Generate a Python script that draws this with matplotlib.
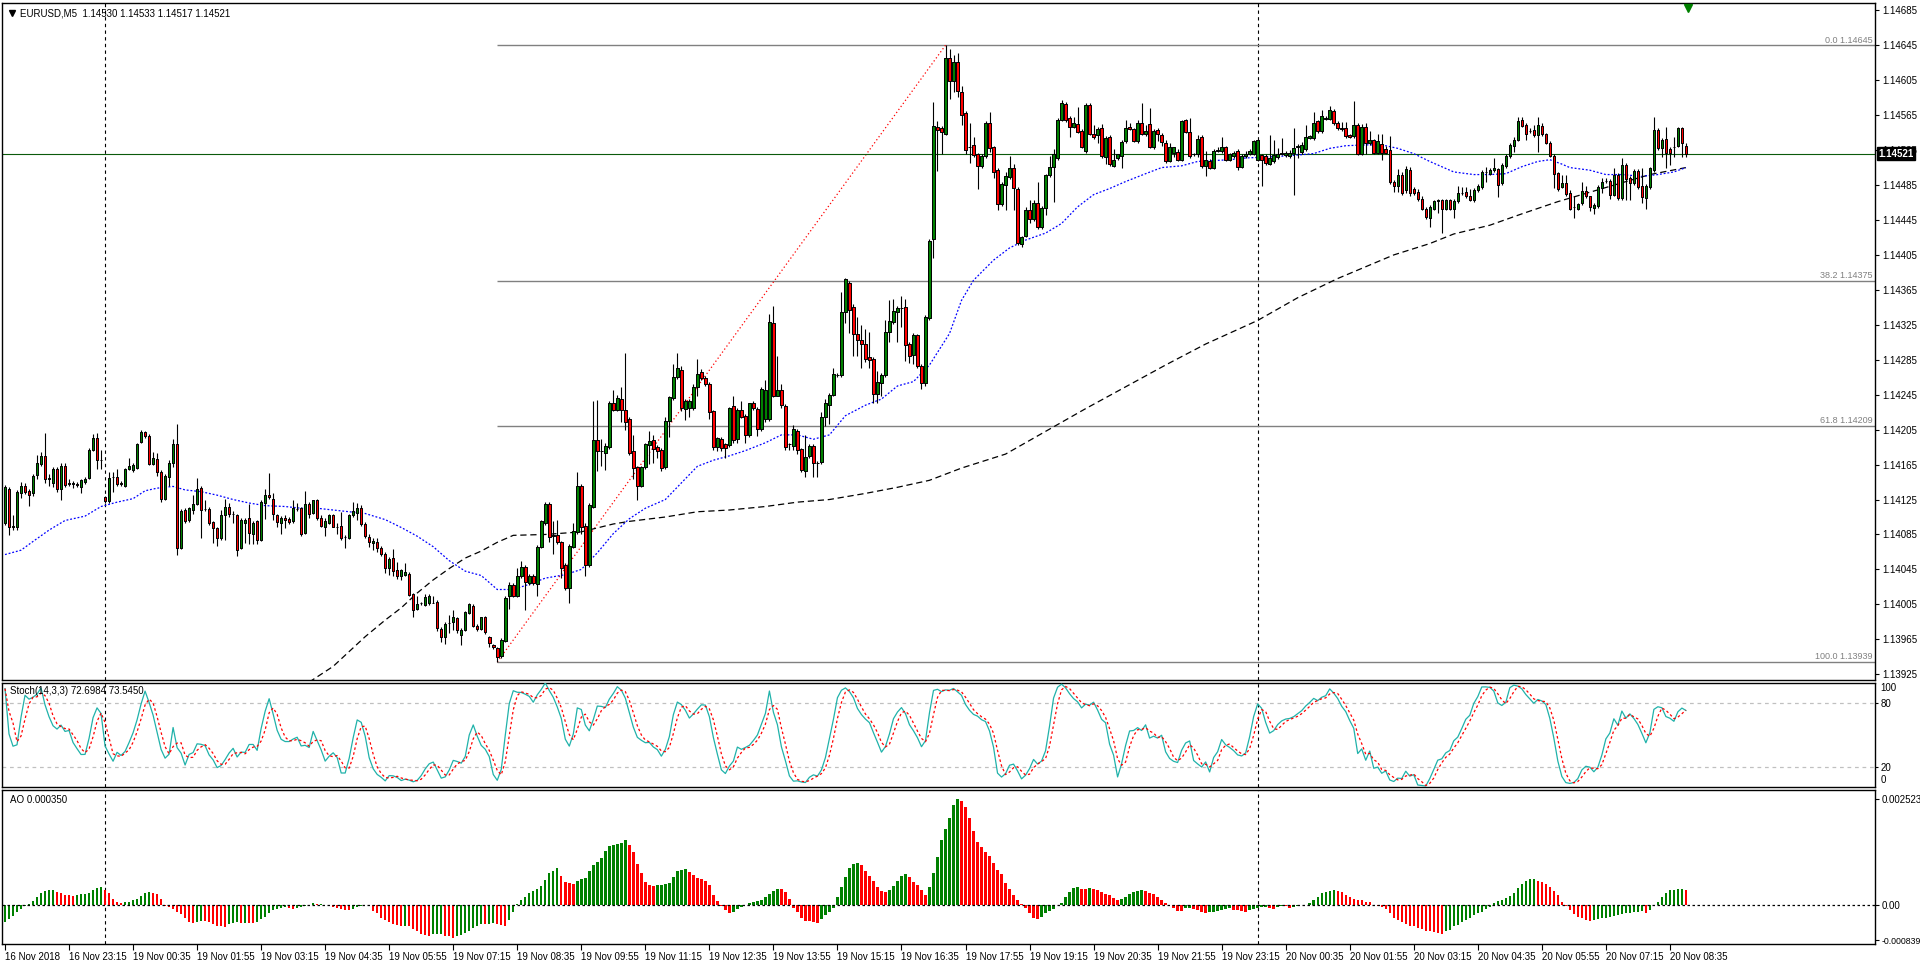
import numpy as np
import pandas as pd
import matplotlib
matplotlib.use("Agg")
import matplotlib.pyplot as plt
from matplotlib.patches import Rectangle
from matplotlib.collections import PatchCollection
from matplotlib.transforms import blended_transform_factory

plt.rcParams.update({
    "font.family": ["Liberation Sans", "DejaVu Sans"],
    "font.size": 7,
})

# Precios guardados en puntos (1e-5) sobre BASE
BASE = 1.14

OPEN = [
    98, 137, 94, 94, 133, 140, 135, 132, 153, 166,
    175, 149, 144, 160, 137, 163, 144, 143, 143, 139,
    145, 150, 182, 195, 170, 128, 123, 151, 151, 144,
    141, 160, 159, 161, 191, 202, 198, 166, 171, 157,
    126, 151, 167, 189, 70, 113, 101, 113, 120, 138,
    114, 114, 99, 92, 81, 107, 117, 108, 107, 70,
    98, 104, 86, 100, 79, 121, 130, 126, 107, 98,
    104, 103, 100, 114, 115, 87, 120, 110, 124, 104,
    94, 98, 107, 93, 95, 82, 81, 107, 110, 115,
    97, 82, 75, 76, 70, 63, 47, 58, 44, 37,
    39, 40, 17, 0, 6, 4, 6, 7, 8, -23,
    -32, -16, -15, -11, -30, -24, -5, 3, -20, -23,
    -10, -32, -41, -45, -54, -37, 14, 27, 15, 37,
    48, 29, 38, 28, 71, 98, 120, 83, 84, 76,
    50, 24, 71, 88, 140, 95, 50, 117, 193, 181,
    178, 185, 235, 228, 240, 227, 217, 180, 162, 141,
    162, 187, 193, 185, 182, 162, 215, 241, 265, 273,
    229, 230, 230, 254, 271, 264, 257, 226, 185, 194,
    188, 187, 232, 194, 227, 221, 199, 235, 229, 206,
    217, 217, 327, 244, 250, 232, 188, 186, 204, 183,
    158, 175, 186, 167, 168, 220, 233, 245, 268, 268,
    340, 373, 345, 315, 308, 303, 288, 286, 246, 258,
    267, 317, 328, 340, 344, 345, 303, 291, 313, 278,
    258, 333, 423, 551, 550, 544, 631, 604, 626, 592,
    567, 528, 531, 520, 507, 518, 556, 528, 502, 463,
    485, 494, 504, 481, 418, 427, 457, 446, 464, 437,
    459, 496, 506, 516, 560, 578, 562, 552, 555, 547,
    524, 577, 544, 542, 550, 517, 540, 507, 516, 518,
    535, 551, 549, 535, 556, 543, 555, 528, 548, 542,
    533, 513, 522, 523, 514, 559, 546, 521, 520, 540,
    507, 513, 505, 524, 524, 528, 514, 518, 524, 506,
    518, 520, 521, 514, 519, 518, 509, 512, 517, 521,
    519, 518, 522, 529, 523, 526, 539, 539, 558, 547,
    561, 561, 570, 556, 550, 550, 542, 541, 554, 521,
    552, 533, 537, 522, 532, 526, 525, 489, 484, 497,
    479, 502, 481, 477, 469, 458, 447, 458, 467, 468,
    458, 468, 458, 467, 476, 477, 472, 468, 479, 483,
    500, 498, 502, 503, 487, 507, 518, 530, 537, 560,
    554, 547, 548, 542, 553, 543, 533, 518, 499, 483,
    487, 476, 460, 458, 464, 478, 472, 459, 461, 482,
    490, 490, 474, 497, 470, 508, 493, 487, 501, 484,
    470, 483, 502, 548, 527, 538, 526, 528, 530, 550, 530,
]
HIGH = [
    142, 139, 107, 136, 145, 144, 137, 154, 176, 179,
    201, 154, 162, 162, 167, 167, 148, 146, 145, 149,
    151, 184, 200, 201, 182, 129, 157, 156, 160, 146,
    161, 173, 167, 190, 205, 204, 200, 179, 178, 159,
    154, 170, 194, 212, 114, 115, 117, 130, 150, 140,
    125, 116, 100, 93, 113, 126, 121, 112, 109, 104,
    104, 120, 100, 102, 124, 137, 155, 132, 109, 106,
    107, 105, 125, 121, 117, 135, 122, 125, 126, 107,
    104, 108, 109, 98, 111, 84, 109, 122, 121, 119,
    99, 86, 81, 81, 72, 65, 59, 68, 54, 46,
    52, 42, 18, 14, 8, 17, 17, 15, 10, -21,
    -15, -7, -2, -9, -22, -3, 6, 5, -18, -9,
    -8, -31, -40, -44, -34, 14, 31, 30, 47, 55,
    50, 40, 40, 73, 102, 122, 122, 100, 102, 78,
    52, 74, 98, 156, 143, 98, 121, 238, 239, 194,
    190, 238, 250, 245, 254, 293, 220, 199, 163, 163,
    190, 204, 199, 187, 184, 220, 244, 280, 293, 278,
    240, 240, 257, 286, 274, 266, 260, 228, 197, 197,
    190, 231, 244, 230, 238, 223, 236, 238, 231, 254,
    262, 337, 346, 289, 257, 234, 190, 210, 206, 184,
    199, 188, 188, 169, 225, 240, 247, 275, 270, 363,
    379, 375, 349, 334, 325, 320, 317, 288, 272, 270,
    331, 353, 355, 347, 358, 355, 305, 316, 315, 280,
    336, 423, 580, 558, 553, 645, 641, 634, 636, 598,
    570, 556, 540, 522, 520, 558, 569, 530, 504, 488,
    500, 518, 509, 483, 427, 460, 468, 468, 489, 461,
    498, 518, 526, 562, 582, 580, 564, 563, 574, 549,
    579, 579, 554, 552, 555, 541, 542, 526, 521, 536,
    560, 556, 550, 559, 579, 554, 573, 549, 550, 545,
    537, 533, 529, 526, 560, 561, 562, 522, 542, 542,
    524, 515, 526, 528, 540, 530, 522, 524, 526, 520,
    524, 526, 537, 538, 521, 520, 542, 537, 527, 539,
    524, 525, 550, 532, 534, 554, 542, 569, 560, 571,
    564, 575, 572, 558, 557, 557, 543, 581, 556, 555,
    556, 547, 538, 544, 544, 530, 541, 491, 503, 500,
    507, 506, 483, 480, 472, 460, 462, 468, 469, 469,
    469, 469, 469, 484, 483, 483, 481, 482, 486, 502,
    506, 504, 516, 505, 510, 520, 533, 540, 563, 563,
    556, 550, 554, 563, 556, 545, 535, 520, 500, 497,
    497, 479, 472, 465, 489, 484, 473, 464, 485, 493,
    493, 492, 505, 499, 516, 510, 495, 503, 503, 504,
    486, 506, 563, 550, 539, 551, 528, 540, 552, 552, 533,
]
LOW = [
    96, 84, 90, 90, 127, 131, 118, 129, 148, 163,
    144, 140, 139, 134, 125, 139, 140, 138, 139, 133,
    143, 149, 181, 160, 160, 121, 121, 134, 141, 140,
    139, 159, 157, 160, 190, 196, 164, 164, 152, 122,
    124, 140, 162, 61, 68, 98, 99, 109, 119, 81,
    112, 96, 75, 72, 79, 79, 105, 98, 60, 68,
    75, 74, 74, 74, 77, 103, 126, 102, 94, 86,
    92, 97, 98, 112, 83, 86, 104, 108, 102, 93,
    83, 97, 93, 86, 79, 69, 80, 105, 102, 95,
    81, 71, 67, 65, 60, 41, 39, 38, 34, 33,
    37, 14, -10, -1, 4, 3, 4, 6, -26, -38,
    -40, -28, -24, -28, -41, -26, -6, -21, -26, -24,
    -29, -44, -46, -61, -56, -38, 0, 13, 13, 35,
    -1, 27, 27, 14, 69, 96, 76, 63, 74, 35,
    21, 7, 70, 86, 85, 38, 48, 115, 158, 163,
    159, 183, 226, 226, 214, 205, 176, 148, 124, 139,
    160, 166, 167, 173, 158, 160, 197, 239, 263, 226,
    216, 220, 228, 243, 262, 255, 217, 182, 180, 180,
    172, 185, 190, 190, 218, 190, 197, 228, 198, 204,
    214, 215, 242, 243, 230, 182, 182, 182, 177, 157,
    151, 173, 151, 151, 166, 209, 211, 243, 265, 265,
    327, 316, 289, 289, 275, 283, 276, 236, 235, 244,
    265, 305, 326, 305, 323, 284, 281, 280, 276, 252,
    255, 331, 402, 501, 520, 542, 583, 592, 586, 554,
    521, 510, 517, 480, 505, 516, 523, 493, 456, 461,
    456, 492, 456, 416, 414, 425, 441, 444, 435, 435,
    451, 494, 466, 514, 558, 557, 540, 550, 545, 527,
    522, 542, 538, 533, 516, 509, 507, 506, 514, 504,
    533, 548, 534, 533, 542, 541, 527, 526, 535, 530,
    510, 511, 517, 512, 512, 545, 516, 518, 517, 505,
    495, 503, 503, 523, 522, 512, 512, 516, 502, 504,
    516, 519, 519, 512, 484, 508, 508, 510, 515, 519,
    517, 516, 474, 516, 521, 524, 538, 537, 545, 545,
    560, 559, 554, 548, 547, 539, 539, 539, 519, 519,
    520, 531, 520, 520, 514, 520, 486, 477, 477, 474,
    476, 473, 474, 467, 456, 446, 437, 456, 453, 430,
    456, 456, 447, 464, 474, 470, 467, 466, 477, 481,
    488, 496, 500, 471, 485, 505, 516, 523, 535, 551,
    537, 545, 540, 523, 541, 532, 517, 482, 478, 482,
    473, 456, 447, 456, 462, 470, 455, 452, 459, 476,
    487, 469, 472, 468, 468, 468, 468, 485, 481, 464,
    458, 481, 500, 525, 517, 504, 508, 517, 528, 517, 517,
]
CLOSE = [
    139, 94, 95, 134, 141, 134, 130, 152, 167, 175,
    148, 150, 160, 137, 163, 142, 143, 144, 142, 147,
    149, 182, 195, 170, 170, 123, 150, 151, 143, 143,
    160, 163, 165, 189, 202, 198, 166, 172, 157, 126,
    152, 167, 189, 70, 112, 100, 115, 120, 137, 113,
    114, 98, 92, 81, 107, 117, 109, 108, 67, 102,
    102, 87, 98, 79, 122, 130, 128, 108, 99, 104,
    102, 99, 115, 114, 86, 120, 109, 124, 104, 95,
    100, 107, 94, 93, 81, 82, 107, 112, 115, 97,
    83, 76, 77, 70, 63, 47, 57, 43, 37, 44,
    42, 16, -1, 5, 6, 13, 15, 7, -22, -32,
    -17, -16, -10, -24, -24, -4, 5, -20, -23, -10,
    -27, -39, -44, -55, -36, 12, 27, 15, 38, 48,
    31, 38, 29, 71, 100, 120, 82, 84, 76, 47,
    24, 72, 89, 140, 93, 50, 119, 193, 181, 181,
    186, 236, 228, 241, 227, 214, 178, 161, 141, 162,
    188, 192, 183, 181, 161, 215, 242, 265, 275, 230,
    238, 238, 254, 269, 264, 257, 225, 185, 195, 184,
    184, 230, 193, 228, 220, 199, 235, 230, 206, 251,
    250, 328, 244, 250, 233, 185, 188, 206, 182, 159,
    174, 186, 167, 167, 220, 235, 245, 269, 267, 340,
    377, 342, 315, 308, 303, 286, 285, 246, 259, 268,
    317, 329, 341, 344, 344, 302, 289, 313, 278, 258,
    334, 421, 553, 548, 546, 630, 604, 626, 593, 565,
    525, 529, 519, 507, 518, 556, 527, 500, 463, 486,
    495, 505, 482, 419, 425, 457, 446, 465, 437, 459,
    496, 506, 521, 560, 579, 559, 551, 556, 546, 528,
    577, 544, 540, 549, 518, 539, 509, 514, 520, 534,
    550, 549, 535, 556, 543, 547, 528, 547, 543, 534,
    512, 529, 528, 514, 558, 546, 518, 520, 538, 507,
    514, 505, 524, 525, 528, 514, 520, 522, 506, 518,
    521, 524, 535, 536, 514, 510, 516, 519, 521, 522,
    522, 522, 527, 530, 531, 540, 541, 556, 547, 564,
    562, 571, 556, 550, 549, 541, 540, 554, 521, 552,
    533, 537, 522, 535, 522, 522, 488, 484, 497, 476,
    503, 476, 476, 469, 458, 448, 460, 467, 468, 458,
    468, 458, 467, 476, 476, 472, 468, 479, 484, 500,
    500, 502, 505, 485, 508, 518, 531, 537, 558, 553,
    543, 547, 542, 554, 543, 533, 518, 498, 481, 487,
    475, 458, 460, 463, 478, 472, 460, 462, 483, 488,
    490, 474, 497, 470, 508, 492, 487, 501, 483, 471,
    484, 504, 548, 527, 537, 522, 522, 528, 550, 533, 521,
]

AO = [
    -41, -33, -26, -17, -9, -3, 2, 10, 19, 28,
    33, 35, 36, 32, 28, 24, 23, 21, 24, 25,
    26, 28, 36, 41, 43, 36, 28, 14, 8, 4,
    6, 8, 11, 14, 21, 28, 30, 28, 26, 14,
    -2, -5, -9, -16, -22, -30, -41, -42, -41, -38,
    -39, -40, -46, -50, -51, -52, -46, -42, -41, -43,
    -42, -43, -44, -40, -34, -28, -20, -13, -9, -6,
    -4, -8, -9, -6, -5, -2, 0, 4, 2, 3,
    -1, -3, -4, -8, -9, -11, -12, -9, -5, -2,
    -1, -3, -14, -20, -30, -36, -41, -46, -47, -51,
    -50, -51, -57, -63, -68, -71, -73, -70, -69, -68,
    -73, -75, -78, -75, -71, -66, -62, -55, -51, -46,
    -46, -45, -44, -46, -47, -51, -36, -17, 2, 12,
    20, 28, 33, 37, 46, 60, 75, 82, 88, 70,
    55, 52, 50, 56, 61, 64, 80, 95, 103, 112,
    128, 140, 143, 146, 148, 155, 144, 125, 97, 75,
    55, 48, 46, 47, 48, 50, 53, 67, 80, 83,
    86, 78, 72, 65, 62, 58, 48, 24, 10, -3,
    -12, -20, -16, -10, -5, 1, 4, 7, 10, 12,
    18, 26, 34, 38, 37, 32, 14, -7, -17, -32,
    -37, -38, -41, -44, -34, -25, -16, -6, 18, 44,
    67, 88, 98, 101, 95, 81, 70, 56, 44, 34,
    32, 36, 46, 56, 70, 73, 66, 55, 48, 36,
    24, 43, 75, 115, 155, 182, 206, 238, 252, 248,
    234, 208, 175, 151, 137, 125, 117, 99, 83, 73,
    53, 38, 24, 12, 2, -8, -20, -32, -33, -28,
    -20, -14, -9, -1, 4, 20, 30, 40, 44, 38,
    37, 40, 38, 36, 30, 25, 24, 16, 12, 14,
    20, 25, 30, 33, 36, 33, 28, 25, 20, 12,
    4, -1, -6, -14, -15, -8, -7, -9, -12, -17,
    -18, -17, -16, -14, -13, -10, -8, -11, -13, -15,
    -16, -12, -10, -8, -5, -4, -6, -9, -5, -2,
    -3, -6, -4, -2, -1, 1, 4, 12, 20, 28,
    32, 34, 35, 33, 30, 24, 20, 14, 12, 11,
    8, 6, 0, -2, -4, -9, -20, -30, -36, -40,
    -46, -49, -51, -55, -57, -62, -63, -65, -67, -68,
    -63, -59, -51, -47, -41, -36, -30, -25, -20, -16,
    -9, -4, 4, 10, 12, 16, 22, 28, 40, 49,
    57, 61, 62, 56, 54, 49, 44, 33, 24, 8,
    -2, -12, -21, -28, -32, -36, -38, -36, -34, -32,
    -30, -28, -26, -24, -22, -20, -19, -17, -16, -14,
    -18, -12, -1, 6, 18, 28, 35, 36, 37, 38, 35,
]

# Medias móviles (índice de vela, puntos)
BLUE_IDX = [0, 4, 7, 11, 15, 20, 24, 28, 32, 35,
            38, 42, 45, 49, 53, 57, 61, 65, 70, 74,
            78, 82, 86, 90, 95, 99, 103, 107, 111, 115,
            119, 123, 127, 131, 135, 140, 144, 148, 152, 156,
            160, 165, 169, 173, 177, 181, 185, 190, 194, 198,
            202, 206, 210, 215, 219, 223, 227, 231, 236, 239,
            242, 247, 251, 255, 260, 264, 268, 272, 276, 280,
            285, 289, 294, 298, 302, 306, 310, 315, 319, 322,
            327, 331, 335, 340, 344, 348, 352, 356, 358, 362,
            367, 371, 375, 379, 383, 386, 389, 391, 396, 400,
            404, 409, 413, 417, 420]
BLUE_VAL = [62, 67, 77, 90, 101, 106, 117, 122, 126, 135,
            138, 140, 136, 134, 130, 125, 121, 118, 117, 115,
            115, 113, 111, 109, 102, 93, 83, 71, 55, 43,
            38, 22, 22, 28, 35, 39, 45, 64, 86, 103,
            115, 125, 144, 163, 170, 175, 181, 190, 199, 199,
            194, 199, 221, 233, 240, 255, 260, 279, 315, 353,
            376, 399, 413, 422, 430, 441, 460, 474, 481, 489,
            498, 505, 507, 512, 513, 514, 516, 517, 518, 519,
            521, 527, 530, 531, 531, 527, 521, 512, 508, 500,
            497, 497, 498, 506, 512, 514, 509, 505, 502, 497,
            497, 495, 497, 500, 505]

BLACK_IDX = [76, 82, 86, 90, 95, 99, 103, 107, 111, 115,
             119, 123, 127, 135, 144, 152, 156, 165, 173, 181,
             190, 198, 206, 215, 223, 231, 239, 250, 260, 270,
             280, 290, 300, 313, 323, 333, 347, 356, 362, 371,
             379, 388, 411, 420]
BLACK_VAL = [-84, -66, -49, -32, -13, 1, 18, 33, 46, 58,
             66, 76, 84, 85, 88, 97, 100, 105, 111, 113,
             117, 122, 125, 132, 139, 147, 161, 177, 203, 229,
             254, 279, 303, 330, 356, 378, 405, 418, 429, 439,
             452, 466, 497, 505]

# Niveles de Fibonacci
FIB_START = 123
FIB_END = 235
FIB_LEVELS = [645, 375, 209, -61]
FIB_NAMES = ["0.0", "38.2", "61.8", "100.0"]

LAST_PRICE = 521
PERIOD_SEPARATORS = [25, 313]

TIME_LABELS = [
    "16 Nov 2018", "16 Nov 23:15", "19 Nov 00:35", "19 Nov 01:55",
    "19 Nov 03:15", "19 Nov 04:35", "19 Nov 05:55", "19 Nov 07:15",
    "19 Nov 08:35", "19 Nov 09:55", "19 Nov 11:15", "19 Nov 12:35",
    "19 Nov 13:55", "19 Nov 15:15", "19 Nov 16:35", "19 Nov 17:55",
    "19 Nov 19:15", "19 Nov 20:35", "19 Nov 21:55", "19 Nov 23:15",
    "20 Nov 00:35", "20 Nov 01:55", "20 Nov 03:15", "20 Nov 04:35",
    "20 Nov 05:55", "20 Nov 07:15", "20 Nov 08:35",
]


def px(v):
    return BASE + np.asarray(v, dtype=float) / 1e5


o = px(OPEN)
h = px(HIGH)
l = px(LOW)
c = px(CLOSE)
x = np.arange(len(c))

# Estocástico (14,3,3) calculado a partir de las velas
cs, hs, ls_ = pd.Series(c), pd.Series(h), pd.Series(l)
ll = ls_.rolling(14, min_periods=1).min()
hh = hs.rolling(14, min_periods=1).max()
num = (cs - ll).rolling(3, min_periods=1).sum()
den = (hh - ll).rolling(3, min_periods=1).sum()
stoch_main = (100 * num / den).to_numpy()
stoch_signal = pd.Series(stoch_main).rolling(3, min_periods=1).mean().to_numpy()

W, H = 1920, 967
fig = plt.figure(figsize=(W / 100, H / 100), dpi=100)
fig.patch.set_facecolor("white")

left, width = 2 / W, 1873 / W
ax = fig.add_axes([left, 1 - 680 / H, width, 677 / H])
ax_st = fig.add_axes([left, 1 - 787 / H, width, 104 / H])
ax_ao = fig.add_axes([left, 1 - 944 / H, width, 154 / H])

XMIN, XMAX = -0.75, 467.25
GREEN = "#008000"
RED = "#ff0000"

for a in (ax, ax_st, ax_ao):
    a.set_xlim(XMIN, XMAX)
    a.set_facecolor("white")
    for s in a.spines.values():
        s.set_linewidth(1.0)
        s.set_color("black")
    a.yaxis.tick_right()
    a.tick_params(axis="y", direction="out", length=3, width=0.8,
                  labelsize=7, pad=2)
    for sep in PERIOD_SEPARATORS:
        a.axvline(sep, color="black", lw=0.8, ls=(0, (3, 3)), zorder=1)

ax.set_xticks([])
ax_st.set_xticks([])

# Panel principal
ax.set_ylim(px(-81.6), px(693.4))
yt = np.round(np.arange(1.13925, 1.146851, 0.0004), 5)
ax.set_yticks(yt)
ax.set_yticklabels([f"{v:.5f}" for v in yt])

tr = blended_transform_factory(ax.transAxes, ax.transData)
for lev, name in zip(FIB_LEVELS, FIB_NAMES):
    ax.hlines(px(lev), FIB_START, XMAX, color="#808080", lw=1.0, zorder=1)
    ax.text(0.9985, px(lev) + 0.000008, f"{name} {px(lev):.5f}", transform=tr,
            ha="right", va="bottom", color="#808080", fontsize=6.5)
ax.plot([FIB_START, FIB_END], [px(FIB_LEVELS[3]), px(FIB_LEVELS[0])],
        color=RED, lw=0.9, ls=(0, (1, 2)), zorder=2)

ax.axhline(px(LAST_PRICE), color="#0b5a0b", lw=0.8, zorder=2)

ax.plot(BLACK_IDX, px(BLACK_VAL), color="black", lw=0.9, ls=(0, (5, 3)), zorder=2)
ax.plot(BLUE_IDX, px(BLUE_VAL), color="blue", lw=0.9, ls=(0, (1.5, 1.5)), zorder=2)

ax.vlines(x, l, h, color="black", lw=0.8, zorder=3)
bw = 0.62
rects = [Rectangle((xi - bw / 2, min(oi, ci)), bw, abs(ci - oi))
         for xi, oi, ci in zip(x, o, c)]
fcs = [GREEN if ci > oi else RED for oi, ci in zip(o, c)]
ax.add_collection(PatchCollection(rects, facecolors=fcs, edgecolors="black",
                                  linewidths=0.7, zorder=4))

ax.text(1.002, px(LAST_PRICE), f"{px(LAST_PRICE):.5f}", transform=tr,
        ha="left", va="center", color="white", fontsize=7, fontweight="bold",
        bbox=dict(boxstyle="square,pad=0.15", fc="black", ec="black"),
        clip_on=False, zorder=10)

trx = blended_transform_factory(ax.transData, ax.transAxes)
ax.plot([420.5], [0.993], marker="v", color=GREEN, markersize=6,
        transform=trx, clip_on=False, zorder=6)

ax.plot([0.0055], [1 - 10 / 677], marker="v", color="black", markersize=4,
        transform=ax.transAxes, zorder=6)
ax.text(0.0098, 1 - 10 / 677,
        "EURUSD,M5  1.14530 1.14533 1.14517 1.14521",
        transform=ax.transAxes, ha="left", va="center", fontsize=7)

# Panel estocástico
ax_st.set_ylim(1.25, 98.75)
ax_st.set_yticks([80, 20])
ax_st.set_yticklabels(["80", "20"])
ax_st.tick_params(axis="y", length=2)
for lev in (20, 80):
    ax_st.axhline(lev, color="#c0c0c0", lw=0.9, ls=(0, (3, 3)), zorder=1)
ax_st.plot(x, stoch_main, color="#20b2aa", lw=0.9, zorder=3)
ax_st.plot(x, stoch_signal, color=RED, lw=0.9, ls=(0, (2, 2)), zorder=3)
trs = blended_transform_factory(ax_st.transAxes, ax_st.transData)
ax_st.text(1.003, 94, "100", transform=trs, ha="left", va="center", fontsize=7)
ax_st.text(1.003, 7.8, "0", transform=trs, ha="left", va="center", fontsize=7)
ax_st.text(0.0045, 1 - 8 / 104, "Stoch(14,3,3) 72.6984 73.5450",
           transform=ax_st.transAxes, ha="left", va="center", fontsize=7)

# Panel AO
ao = np.asarray(AO, dtype=float) / 1e5
ao_col = [GREEN] + [GREEN if ao[i] > ao[i - 1] else RED for i in range(1, len(ao))]
ax_ao.set_ylim(-92.9 / 1e5, 273.8 / 1e5)
ax_ao.bar(x, ao, width=0.6, color=ao_col, linewidth=0, zorder=3)
ax_ao.axhline(0, color="black", lw=0.9, ls=(0, (2, 2)), zorder=4)
ax_ao.set_yticks([0.002523, 0.0, -0.000839])
ax_ao.set_yticklabels(["0.002523", "0.00", "-0.000839"])
ax_ao.get_yticklabels()[2].set_fontsize(6.3)
ax_ao.text(0.0045, 1 - 10 / 154, "AO 0.000350", transform=ax_ao.transAxes,
           ha="left", va="center", fontsize=7)

ax_ao.set_xticks(np.arange(0, 16 * len(TIME_LABELS), 16))
ax_ao.set_xticklabels(TIME_LABELS, ha="left")
ax_ao.tick_params(axis="x", direction="out", length=4, width=0.8,
                  labelsize=7, pad=2)

fig.savefig("out.png", dpi=100, facecolor="white")
